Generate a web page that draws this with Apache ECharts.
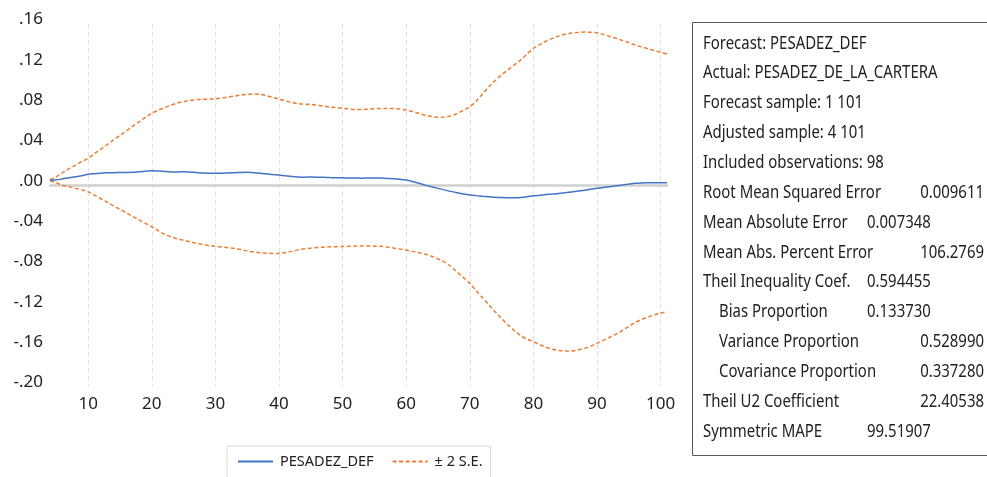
<!DOCTYPE html>
<html>
<head>
<meta charset="utf-8">
<script src="https://cdn.jsdelivr.net/npm/echarts@6/dist/echarts.min.js"></script>
<style>
  html, body { margin: 0; padding: 0; background: #fff; }
  #chart { width: 987px; height: 477px; }
</style>
</head>
<body>
<div id="chart"></div>
<script>
// Observations 4..101 of the forecast sample
const observations = [
  4, 5, 6, 7, 8, 9, 10, 11, 12, 13,
  14, 15, 16, 17, 18, 19, 20, 21, 22, 23,
  24, 25, 26, 27, 28, 29, 30, 31, 32, 33,
  34, 35, 36, 37, 38, 39, 40, 41, 42, 43,
  44, 45, 46, 47, 48, 49, 50, 51, 52, 53,
  54, 55, 56, 57, 58, 59, 60, 61, 62, 63,
  64, 65, 66, 67, 68, 69, 70, 71, 72, 73,
  74, 75, 76, 77, 78, 79, 80, 81, 82, 83,
  84, 85, 86, 87, 88, 89, 90, 91, 92, 93,
  94, 95, 96, 97, 98, 99, 100, 101
];

// Forecast of PESADEZ_DEF
const forecast = [
  0.0045, 0.005, 0.006, 0.007, 0.008, 0.009, 0.0105, 0.011, 0.0115, 0.012,
  0.012, 0.0122, 0.0123, 0.0125, 0.013, 0.0135, 0.014, 0.0138, 0.0133, 0.0128,
  0.0128, 0.013, 0.0127, 0.0122, 0.0117, 0.0114, 0.0114, 0.0115, 0.0118, 0.012,
  0.0123, 0.0124, 0.012, 0.0115, 0.011, 0.0103, 0.0097, 0.009, 0.0083, 0.0078,
  0.0076, 0.0077, 0.0076, 0.0074, 0.0072, 0.0071, 0.007, 0.0068, 0.0067, 0.0066,
  0.0067, 0.0068, 0.0067, 0.0064, 0.006, 0.0055, 0.0048, 0.0033, 0.0015, -0.0003,
  -0.002, -0.0035, -0.005, -0.0065, -0.0078, -0.009, -0.010, -0.0107, -0.0113, -0.0118,
  -0.0123, -0.0126, -0.0128, -0.0128, -0.0125, -0.0118, -0.0108, -0.0103, -0.0097, -0.0092,
  -0.0086, -0.0078, -0.007, -0.0062, -0.0053, -0.0044, -0.0035, -0.0027, -0.0018, -0.001,
  -0.0002, 0.0007, 0.0015, 0.0019, 0.002, 0.0021, 0.0021, 0.002
];

// Forecast + 2 standard errors
const upperBand = [
  0.005, 0.008, 0.012, 0.016, 0.0195, 0.023, 0.0263, 0.031, 0.0355, 0.040,
  0.0445, 0.049, 0.0535, 0.058, 0.0625, 0.067, 0.071, 0.074, 0.0765, 0.079,
  0.081, 0.0825, 0.0835, 0.0845, 0.085, 0.085, 0.0852, 0.086, 0.087, 0.088,
  0.089, 0.0898, 0.0902, 0.0898, 0.0885, 0.0868, 0.085, 0.0832, 0.0815, 0.0805,
  0.080, 0.0797, 0.079, 0.078, 0.0772, 0.0765, 0.0759, 0.0752, 0.0748, 0.0748,
  0.075, 0.0755, 0.0758, 0.0758, 0.0757, 0.0752, 0.0742, 0.0727, 0.0709, 0.069,
  0.0677, 0.067, 0.0672, 0.0685, 0.0708, 0.074, 0.0775, 0.083, 0.090, 0.0973,
  0.1035, 0.109, 0.114, 0.119, 0.1238, 0.1298, 0.1354, 0.139, 0.1425, 0.1453,
  0.1475, 0.1493, 0.1505, 0.1512, 0.1515, 0.1513, 0.1509, 0.149, 0.1472, 0.1453,
  0.1432, 0.141, 0.1387, 0.1368, 0.135, 0.1332, 0.1315, 0.1297
];

// Forecast - 2 standard errors
const lowerBand = [
  0.004, 0.002, -0.0005, -0.002, -0.0035, -0.005, -0.0068, -0.0103, -0.0138, -0.0173,
  -0.0208, -0.0243, -0.0278, -0.0313, -0.0348, -0.0383, -0.0416, -0.0455, -0.049, -0.0515,
  -0.0535, -0.055, -0.0565, -0.058, -0.0592, -0.0602, -0.061, -0.0617, -0.0623, -0.063,
  -0.0642, -0.0655, -0.0665, -0.0673, -0.0678, -0.068, -0.068, -0.0672, -0.066, -0.0645,
  -0.0635, -0.0628, -0.0622, -0.0618, -0.0615, -0.0613, -0.0612, -0.061, -0.0608, -0.0607,
  -0.0607, -0.0608, -0.061, -0.0617, -0.0627, -0.0637, -0.0647, -0.066, -0.0673, -0.0688,
  -0.0708, -0.0735, -0.0765, -0.081, -0.0865, -0.092, -0.0977, -0.105, -0.112, -0.119,
  -0.126, -0.1325, -0.139, -0.1445, -0.1495, -0.153, -0.1556, -0.1585, -0.161, -0.163,
  -0.1642, -0.1648, -0.1648, -0.1638, -0.1622, -0.16, -0.157, -0.1542, -0.1512, -0.148,
  -0.1443, -0.1403, -0.1365, -0.1335, -0.131, -0.129, -0.1272, -0.1258
];

// Y axis range and step
const yMin = -0.20;
const yMax = 0.16;
const yStep = 0.04;

// Forecast evaluation statistics
const statLabels = [
  'Forecast: PESADEZ_DEF',
  'Actual: PESADEZ_DE_LA_CARTERA',
  'Forecast sample: 1 101',
  'Adjusted sample: 4 101',
  'Included observations: 98',
  'Root Mean Squared Error',
  'Mean Absolute Error',
  'Mean Abs. Percent Error',
  'Theil Inequality Coef.',
  'Bias Proportion',
  'Variance Proportion',
  'Covariance Proportion',
  'Theil U2 Coefficient',
  'Symmetric MAPE'
];
const statValues = [
  '', '', '', '', '',
  '0.009611', '0.007348', '106.2769', '0.594455',
  '0.133730', '0.528990', '0.337280', '22.40538', '99.51907'
];

// Layout of the statistics panel
const panelRowTop = 43.5;
const panelRowStep = 29.85;
const indentRows = [9, 10, 11];
const rightAlignedValues = [5, 7, 10, 11, 12];

const TEXT_COLOR = '#222222';
const PANEL_SCALE = 0.83;

const panelElements = [{
  type: 'rect',
  shape: { x: 692.5, y: 22.5, width: 320, height: 433 },
  style: { fill: '#ffffff', stroke: '#595959', lineWidth: 1 },
  silent: true
}];

statLabels.forEach(function (label, i) {
  const y = panelRowTop + i * panelRowStep;
  panelElements.push({
    type: 'text',
    x: indentRows.indexOf(i) >= 0 ? 719 : 703,
    y: y,
    scaleX: PANEL_SCALE,
    style: {
      text: label,
      fontFamily: 'Noto Sans',
      fontSize: 18,
      fill: TEXT_COLOR,
      verticalAlign: 'middle',
      align: 'left'
    },
    silent: true
  });
  if (statValues[i]) {
    const right = rightAlignedValues.indexOf(i) >= 0;
    panelElements.push({
      type: 'text',
      x: right ? 984 : 867,
      y: y,
      scaleX: PANEL_SCALE,
      style: {
        text: statValues[i],
        fontFamily: 'Noto Sans',
        fontSize: 18,
        fill: TEXT_COLOR,
        verticalAlign: 'middle',
        align: right ? 'right' : 'left'
      },
      silent: true
    });
  }
});

const chart = echarts.init(document.getElementById('chart'), null, { renderer: 'canvas' });

const dashed = [4, 2.5];

chart.setOption({
  animation: false,
  backgroundColor: '#ffffff',
  grid: { left: 50, right: 320, top: 23.5, bottom: 90.5, containLabel: false },
  legend: {
    data: ['PESADEZ_DEF', '± 2 S.E.'],
    left: 227,
    top: 446,
    padding: [8, 8, 20, 10],
    borderColor: '#d9d9d9',
    borderWidth: 1,
    itemWidth: 35,
    itemHeight: 14,
    itemGap: 18,
    itemStyle: { opacity: 0 },
    textStyle: { fontFamily: 'Noto Sans', fontSize: 14.5, color: TEXT_COLOR, padding: [0, 0, 0, 2] }
  },
  xAxis: {
    type: 'category',
    data: observations,
    boundaryGap: false,
    axisLine: { show: true, onZero: true, lineStyle: { color: '#d0d0d0', width: 2.5 } },
    axisTick: { show: false },
    axisLabel: {
      interval: function (idx, val) { return Number(val) % 10 === 0; },
      fontFamily: 'Noto Sans',
      fontSize: 17,
      color: TEXT_COLOR,
      margin: 9
    },
    splitLine: {
      show: true,
      interval: function (idx, val) { return Number(val) % 10 === 0; },
      lineStyle: { color: '#e0e0e0', type: [5, 3], width: 1 }
    }
  },
  yAxis: {
    type: 'value',
    min: yMin,
    max: yMax,
    interval: yStep,
    axisLine: { show: false },
    axisTick: { show: false },
    splitLine: { show: false },
    axisLabel: {
      fontFamily: 'Noto Sans',
      fontSize: 17,
      color: TEXT_COLOR,
      margin: 7,
      verticalAlign: 'bottom',
      lineHeight: 8,
      formatter: function (v) {
        return v.toFixed(2).replace('0.', '.');
      }
    }
  },
  series: [
    {
      name: 'PESADEZ_DEF',
      type: 'line',
      data: forecast,
      symbol: 'none',
      smooth: 0.3,
      lineStyle: { color: '#4472c4', width: 1.5 },
      itemStyle: { color: '#4472c4' },
      z: 3
    },
    {
      name: '± 2 S.E.',
      type: 'line',
      data: upperBand,
      symbol: 'none',
      smooth: 0.3,
      lineStyle: { color: '#ed7d31', width: 1.5, type: dashed },
      itemStyle: { color: '#ed7d31' },
      z: 2
    },
    {
      name: '± 2 S.E.',
      type: 'line',
      data: lowerBand,
      symbol: 'none',
      smooth: 0.3,
      lineStyle: { color: '#ed7d31', width: 1.5, type: dashed },
      itemStyle: { color: '#ed7d31' },
      z: 2
    }
  ],
  graphic: { elements: panelElements }
});
</script>
</body>
</html>
